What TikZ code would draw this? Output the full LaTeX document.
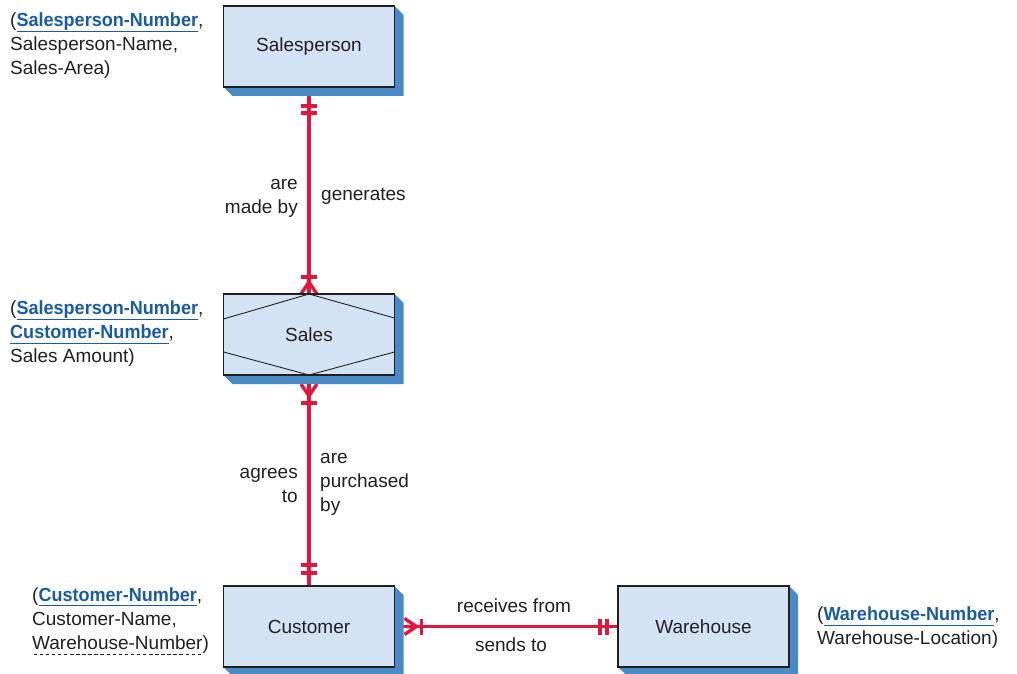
\documentclass[tikz,border=0pt]{standalone}
\usepackage{fontspec}
\setmainfont{Liberation Sans}[BoldFeatures={FakeStretch=0.95}]
\usetikzlibrary{decorations.markings}
\pgfdeclarelayer{background}
\pgfsetlayers{background,main}

\definecolor{erred}{HTML}{E2173E}
\definecolor{boxfill}{HTML}{D4E3F3}
\definecolor{boxside}{HTML}{4A8BC6}
\definecolor{keyblue}{HTML}{1B5C9E}
\definecolor{ink}{HTML}{231F20}

\newsavebox{\keybox}
\newcommand{\pk}[1]{\sbox{\keybox}{\color{keyblue}\textbf{#1}}%
  {\color{keyblue}\rlap{\raisebox{-5pt}{\rule{\wd\keybox}{1pt}}}}\usebox{\keybox}}
\newcommand{\fk}[1]{\sbox{\keybox}{#1}%
  \rlap{\raisebox{-5pt}{\hbox to \wd\keybox{\xleaders\hbox to 6pt{\hss\rule{3.5pt}{0.8pt}\hss}\hfill}}}\usebox{\keybox}}
\newcommand{\erbar}{\draw[erred,line width=3.4pt] (0,-8pt) -- (0,8pt);}
\newcommand{\ercrowin}{\draw[erred,line width=3.4pt] (0,-8pt) -- (-12pt,0) -- (0,8pt);}
\newcommand{\ercrowout}{\draw[erred,line width=3.4pt] (0,-8pt) -- (12pt,0) -- (0,8pt);}

\begin{document}
\begin{tikzpicture}[x=1pt,y=-1pt,
    font=\fontsize{19}{24}\selectfont, text=ink,
    entity/.style={draw=ink, line width=1.5pt, fill=boxfill,
      minimum width=171pt, minimum height=81pt, inner sep=0pt, outer sep=0pt},
    rel/.style={draw=erred, line width=3.4pt},
    attr/.style={align=left, anchor=west, inner sep=0pt},
    lbl/.style={inner sep=0pt}]
  \useasboundingbox (0,0) rectangle (1017,674);

  \node[entity] (sp) at (309,46.5) {Salesperson};
  \node[entity] (sa) at (309,334.5) {Sales};
  \node[entity] (cu) at (309,626.5) {Customer};
  \node[entity] (wh) at (703.5,626.5) {Warehouse};
  \draw[ink,line width=0.9pt] ([yshift=-25pt]sa.north west) -- (sa.north) -- ([yshift=-24pt]sa.north east)
    ([yshift=23pt]sa.south west) -- (sa.south) -- ([yshift=23pt]sa.south east);

  \begin{pgfonlayer}{background}
    % relationships
    \draw[rel, postaction=decorate, decoration={markings,
        mark=at position 19pt with {\erbar}, mark=at position 26pt with {\erbar},
        mark=at position -17pt with {\erbar}, mark=at position -0.01pt with {\ercrowin}}]
      (sp) -- (sa);
    \draw[rel, postaction=decorate, decoration={markings,
        mark=at position 9pt with {\ercrowout}, mark=at position 28pt with {\erbar},
        mark=at position -21pt with {\erbar}, mark=at position -13pt with {\erbar}}]
      (sa) -- (cu);
    \draw[rel, postaction=decorate, decoration={markings,
        mark=at position 10pt with {\ercrowout}, mark=at position 27pt with {\erbar},
        mark=at position -18pt with {\erbar}, mark=at position -11pt with {\erbar}}]
      (cu) -- (wh);
    % box sides
    \foreach \n in {sp,sa,cu,wh}
      \fill[boxside] (\n.north east) -- ++(9,9) -- ++(0,81) -- ++(-171,0)
        -- (\n.south west) -- (\n.south east) -- cycle;
  \end{pgfonlayer}

  \node[lbl, align=right, anchor=east] (madeby) at (298,198) {are\\made by};
  \node[lbl, anchor=west] (generates) at (321,196) {generates};
  \node[lbl, align=right, anchor=east] (agrees) at (298,485) {agrees\\to};
  \node[lbl, align=left, anchor=west] (purchased) at (320,484) {are\\purchased\\by};
  \node[lbl] (receives) at (514,606) {receives from};
  \node[lbl] (sends) at (511,645) {sends to};

  \node[attr] (spattr) at (10,46) {(\pk{Salesperson-Number},\\Salesperson-Name,\\Sales-Area)};
  \node[attr] (saattr) at (10,334) {(\pk{Salesperson-Number},\\\pk{Customer-Number},\\Sales Amount)};
  \node[attr] (cuattr) at (32,621) {(\pk{Customer-Number},\\Customer-Name,\\\fk{Warehouse-Number})};
  \node[attr] (whattr) at (817,628) {(\pk{Warehouse-Number},\\Warehouse-Location)};
\end{tikzpicture}
\end{document}
